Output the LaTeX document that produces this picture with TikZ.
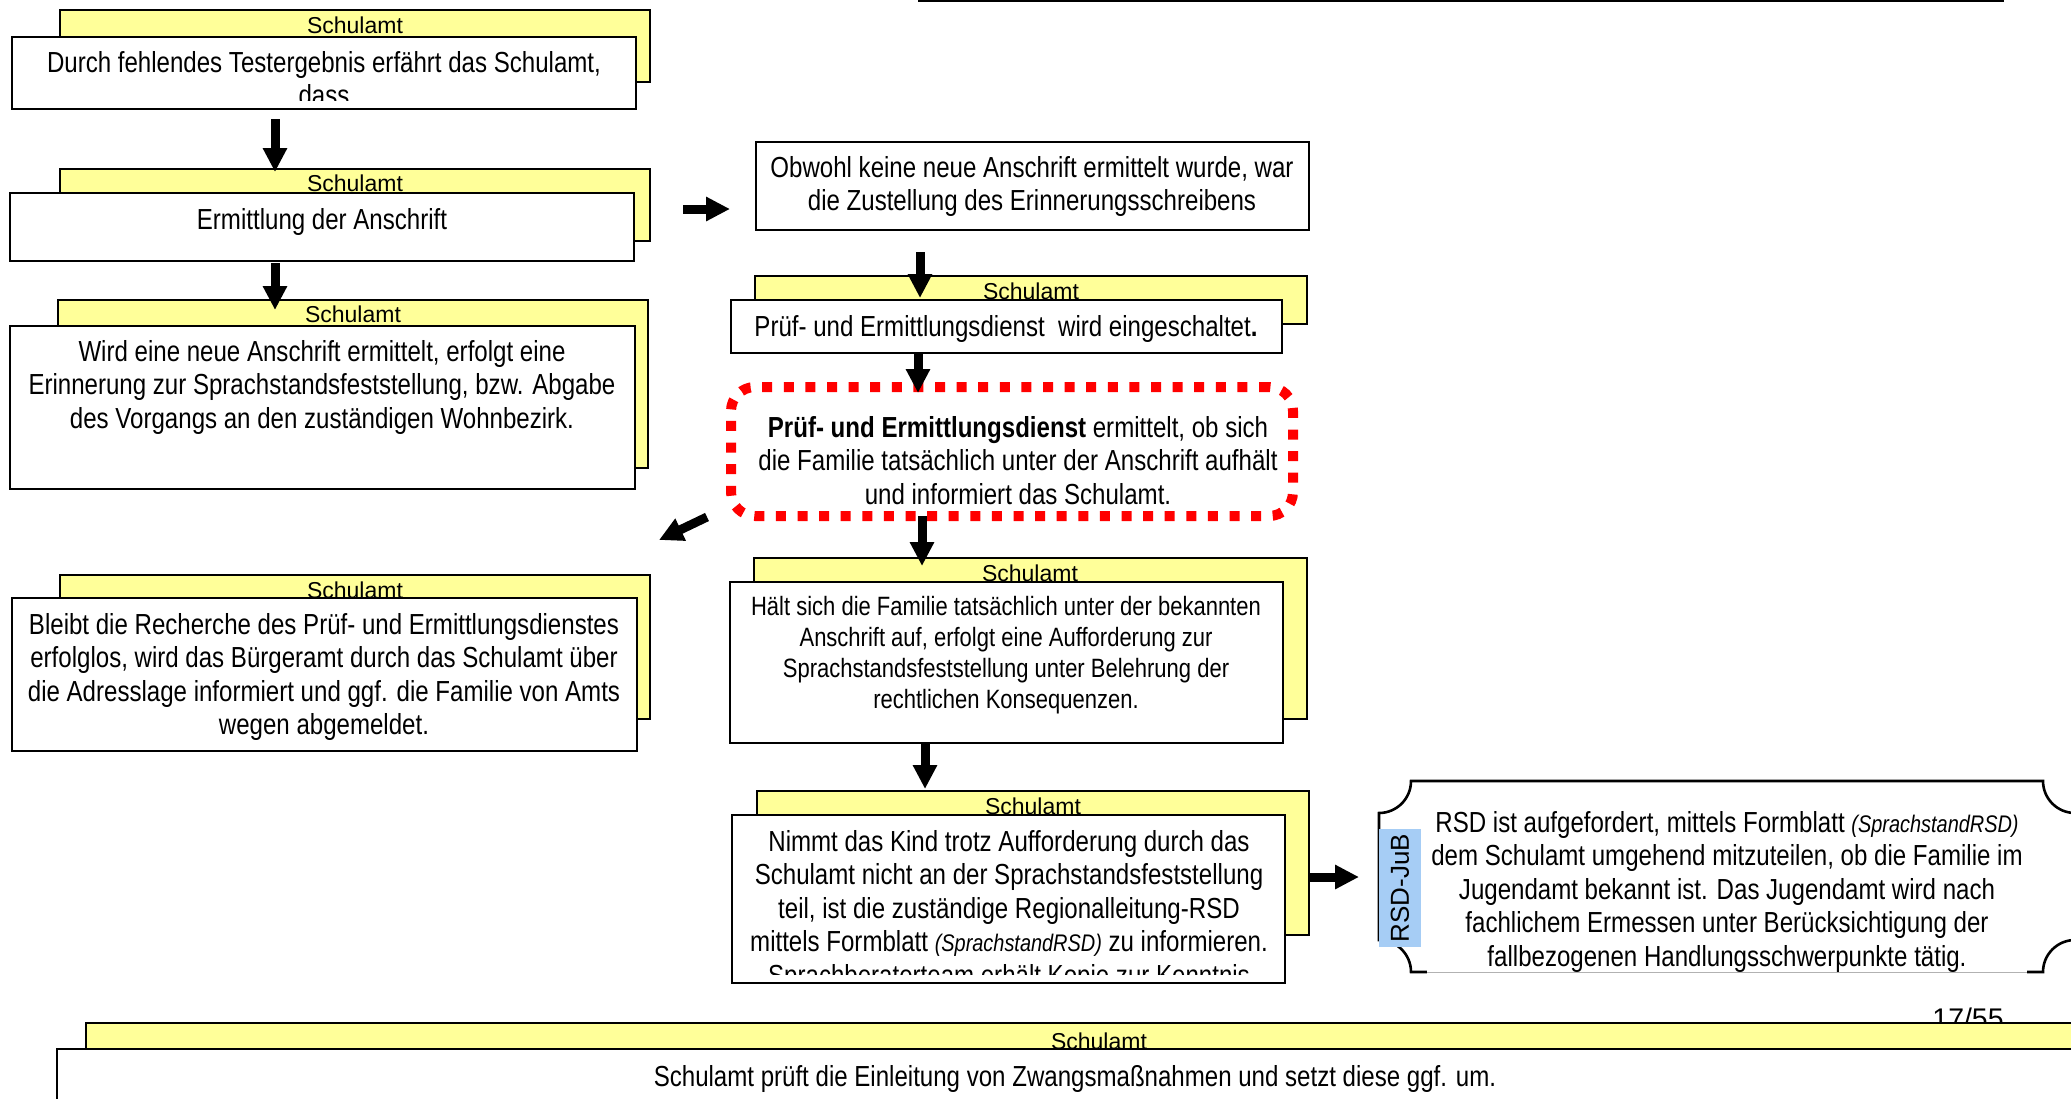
\documentclass[tikz,border=0pt]{standalone}
\usepackage{fontspec}
\setmainfont{Liberation Sans}
\newfontfamily\narrowfont[FakeStretch=0.83]{Liberation Sans}
\usetikzlibrary{arrows.meta,fit}
\definecolor{cardyellow}{RGB}{255,255,153}
\definecolor{tagblue}{RGB}{166,205,245}
\definecolor{dotred}{RGB}{255,0,0}
\newcommand\formname{{\itshape\fontsize{12}{13}\selectfont(SprachstandRSD)}}
\tikzset{
  card/.style={draw=black, line width=1.3pt, inner sep=0pt, outer sep=0pt},
  backcard/.style={card, fill=cardyellow},
  frontcard/.style={card, fill=white},
  tag/.style={font=\fontsize{11.5}{13}\selectfont, inner sep=0pt},
  % anchor=base sits on the baseline of the last line
  body/.style={font=\narrowfont\fontsize{14.5}{16.75}\selectfont, align=center, anchor=base, inner sep=0pt},
  smallbody/.style={body, font=\narrowfont\fontsize{13.25}{15.5}\selectfont},
  flow/.style={line width=4.5pt, -{Triangle[width=11.5pt,length=12pt]}},
}
\begin{document}
\begin{tikzpicture}[x=0.5pt,y=-0.5pt]
\useasboundingbox (0,0) rectangle (2071,1098);
\clip (0,0) rectangle (2071,1098);

% header rule
\draw[line width=1pt] (918,1) -- (2004,1);

% ---- left column ----
\node[backcard, fit={(60,10) (650,82)}] (b1) {};
\node[tag] (t1) at (355,25) {Schulamt};
\node[frontcard, fit={(12,37) (636,109)}] (f1) {};
\begin{scope}
  \clip (12,37) rectangle (636,100);
  \node[body] (x1) at (324,105.5) {Durch fehlendes Testergebnis erfährt das Schulamt,\\dass};
\end{scope}

\node[backcard, fit={(60,169) (650,241)}] (b2) {};
\node[tag] (t2) at (355,183) {Schulamt};
\node[frontcard, fit={(10,193) (634,261)}] (f2) {};
\node[body] (x2) at (322,229) {Ermittlung der Anschrift};

\node[backcard, fit={(58,300) (648,468)}] (b3) {};
\node[tag] (t3) at (353,314) {Schulamt};
\node[frontcard, fit={(10,326) (635,489)}] (f3) {};
\node[body] (x3) at (322,428) {Wird eine neue Anschrift ermittelt, erfolgt eine\\Erinnerung zur Sprachstandsfeststellung, bzw. Abgabe\\des Vorgangs an den zuständigen Wohnbezirk.};

\node[backcard, fit={(60,575) (650,719)}] (b4) {};
\node[tag] (t4) at (355,590) {Schulamt};
\node[frontcard, fit={(12,598) (637,751)}] (f4) {};
\node[body] (x4) at (324,734.5) {Bleibt die Recherche des Prüf- und Ermittlungsdienstes\\erfolglos, wird das Bürgeramt durch das Schulamt über\\die Adresslage informiert und ggf. die Familie von Amts\\wegen abgemeldet.};

% ---- middle column ----
\node[frontcard, fit={(756,142) (1309,230)}] (f5) {};
\node[body] (x5) at (1032,210.5) {Obwohl keine neue Anschrift ermittelt wurde, war\\die Zustellung des Erinnerungsschreibens};

\node[backcard, fit={(755,276) (1307,324)}] (b6) {};
\node[tag] (t6) at (1031,291) {Schulamt};
\node[frontcard, fit={(731,300) (1282,353)}] (f6) {};
\node[body] (x6) at (1006,336) {Prüf- und Ermittlungsdienst~ wird eingeschaltet\textbf{.}};

\node[draw=dotred, line width=5pt, dash pattern=on 5pt off 5.8pt, rounded corners=12pt,
      inner sep=0pt, fit={(731,387) (1293,516)}] (chk) {};
\node[body] (x7) at (1018,504) {\textbf{Prüf- und Ermittlungsdienst} ermittelt, ob sich\\die Familie tatsächlich unter der Anschrift aufhält\\und informiert das Schulamt.};

\node[backcard, fit={(754,558) (1307,719)}] (b8) {};
\node[tag] (t8) at (1030,573) {Schulamt};
\node[frontcard, fit={(730,582) (1283,743)}] (f8) {};
\node[smallbody] (x8) at (1006,708) {Hält sich die Familie tatsächlich unter der bekannten\\Anschrift auf, erfolgt eine Aufforderung zur\\Sprachstandsfeststellung unter Belehrung der\\rechtlichen Konsequenzen.};

\node[backcard, fit={(757,791) (1309,935)}] (b9) {};
\node[tag] (t9) at (1033,806) {Schulamt};
\node[frontcard, fit={(732,815) (1285,983)}] (f9) {};
\begin{scope}
  \clip (732,815) rectangle (1285,974);
  \node[body] (x9) at (1009,985) {Nimmt das Kind trotz Aufforderung durch das\\Schulamt nicht an der Sprachstandsfeststellung\\teil, ist die zuständige Regionalleitung-RSD\\mittels Formblatt \formname{} zu informieren.\\Sprachberaterteam erhält Kopie zur Kenntnis};
\end{scope}

% ---- RSD plaque ----
\node[inner sep=0pt, fit={(1379,781) (2075,972)}] (rsd) {};
\filldraw[fill=white, draw=black, line width=1.3pt]
  (1379,813) arc[start angle=90, end angle=0, radius=32]
  -- (2043,781) arc[start angle=180, end angle=90, radius=32]
  -- (2075,940) arc[start angle=270, end angle=180, radius=32]
  -- (1411,972) arc[start angle=0, end angle=-90, radius=32]
  -- cycle;
\draw[white, line width=2pt] (1427,972) -- (2027,972);
\draw[gray!60, line width=0.5pt] (1427,972) -- (2027,972);
\node[fill=tagblue, rotate=90, minimum width=59pt, minimum height=21pt, inner sep=0pt,
      font=\fontsize{13}{14}\selectfont] (lab) at (1400,888) {RSD-JuB};
\node[body] (x10) at (1727,966) {RSD ist aufgefordert, mittels Formblatt \formname\\dem Schulamt umgehend mitzuteilen, ob die Familie im\\Jugendamt bekannt ist. Das Jugendamt wird nach\\fachlichem Ermessen unter Berücksichtigung der\\fallbezogenen Handlungsschwerpunkte tätig.};

% ---- page number and bottom card ----
\node[font=\fontsize{14.2}{16}\selectfont, anchor=base, inner sep=0pt] (pg) at (1968,1028) {17/55};
\node[backcard, fit={(86,1023) (2112,1070)}] (b11) {};
\node[tag] (t11) at (1099,1041) {Schulamt};
\node[frontcard, fit={(57,1049) (2093,1130)}] (f11) {};
\node[body] (x11) at (1075,1086) {Schulamt prüft die Einleitung von Zwangsmaßnahmen und setzt diese ggf. um.};

% ---- connectors ----
\coordinate (a1s) at (275,119);  \coordinate (a1e) at (275,172);
\coordinate (a2s) at (275,263);  \coordinate (a2e) at (275,310);
\coordinate (a3s) at (683,209);  \coordinate (a3e) at (730,209);
\coordinate (a4s) at (920,252);  \coordinate (a4e) at (920,298);
\coordinate (a5s) at (918,353);  \coordinate (a5e) at (918,393);
\coordinate (a6s) at (707,517);  \coordinate (a6e) at (659,540);
\coordinate (a7s) at (922,516);  \coordinate (a7e) at (922,566);
\coordinate (a8s) at (925,743);  \coordinate (a8e) at (925,789);
\coordinate (a9s) at (1309,877); \coordinate (a9e) at (1359,877);
\draw[flow] (a1s) -- (a1e);
\draw[flow] (a2s) -- (a2e);
\draw[flow] (a3s) -- (a3e);
\draw[flow] (a4s) -- (a4e);
\draw[flow] (a5s) -- (a5e);
\draw[flow] (a6s) -- (a6e);
\draw[flow] (a7s) -- (a7e);
\draw[flow] (a8s) -- (a8e);
\draw[flow] (a9s) -- (a9e);
\end{tikzpicture}
\end{document}
